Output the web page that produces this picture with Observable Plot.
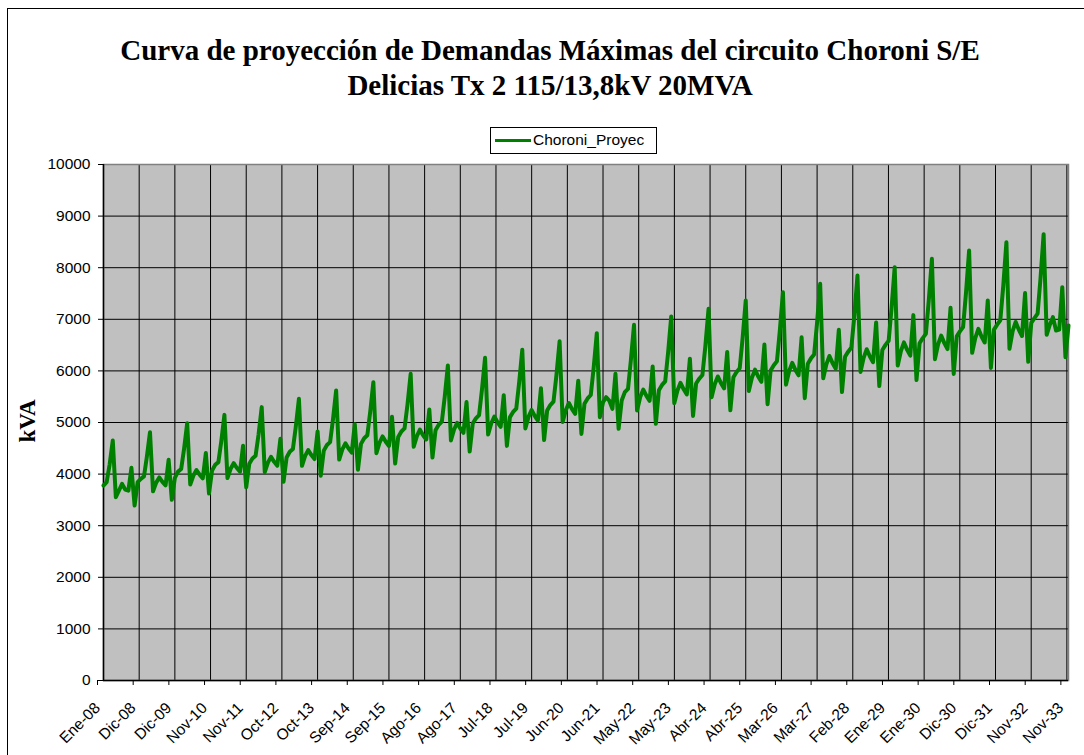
<!DOCTYPE html>
<html>
<head>
<meta charset="utf-8">
<script src="https://cdn.jsdelivr.net/npm/d3@7"></script>
<script src="https://cdn.jsdelivr.net/npm/@observablehq/plot@0.6"></script>
<style>
  html, body { margin: 0; padding: 0; background: #fff; overflow: hidden; }
  #wrap { position: relative; width: 1084px; height: 755px; overflow: hidden; }
  #border { position: absolute; left: 7px; top: 8px; width: 1200px; height: 900px; border: 1.5px solid #000; box-sizing: border-box; }
  .title { position: absolute; left: 8px; width: 1084px; text-align: center; font-family: "Liberation Serif", "Times New Roman", serif; font-weight: bold; font-size: 29px; line-height: 32px; color: #000; white-space: nowrap; }
  #legend { position: absolute; left: 490px; top: 127px; width: 167px; height: 27px; border: 1px solid #000; box-sizing: border-box; background: #fff; font-family: "Liberation Sans", Arial, sans-serif; font-size: 15.5px; }
  #legend .sw { position: absolute; left: 4px; top: 11px; width: 36px; height: 3px; background: #008000; }
  #legend .tx { position: absolute; left: 42px; top: 3px; white-space: nowrap; }
  #ylab { position: absolute; left: 28px; top: 421px; transform: translate(-50%, -50%) rotate(-90deg); font-family: "Liberation Serif", "Times New Roman", serif; font-weight: bold; font-size: 23px; white-space: nowrap; }
  #chart { position: absolute; left: 0; top: 0; }
</style>
</head>
<body>
<div id="wrap">
  <div id="border"></div>
  <div id="chart"></div>
  <div class="title" style="top:34px;">Curva de proyección de Demandas Máximas del circuito Choroni S/E</div>
  <div class="title" style="top:69px;">Delicias Tx 2 115/13,8kV 20MVA</div>
  <div id="legend"><div class="sw"></div><div class="tx">Choroni_Proyec</div></div>
  <div id="ylab">kVA</div>
</div>
<script>
// Series name
const seriesName = "Choroni_Proyec";

// Monthly values (kVA), Jan 2008 ... Dec 2033, one row per year (Ene..Dic)
const kva = [
  3779, 3843, 4185, 4651, 3553, 3682, 3811, 3700, 3680, 4121, 3391, 3843,
  3907, 3955, 4331, 4812, 3667, 3835, 3936, 3850, 3782, 4277, 3501, 3927,
  4048, 4098, 4487, 4985, 3799, 3973, 4078, 3988, 3918, 4407, 3624, 4068,
  4180, 4232, 4633, 5148, 3923, 4103, 4211, 4118, 4046, 4551, 3743, 4201,
  4302, 4355, 4768, 5298, 4037, 4223, 4334, 4238, 4164, 4683, 3852, 4323,
  4434, 4488, 4914, 5460, 4161, 4352, 4466, 4368, 4292, 4827, 3969, 4455,
  4563, 4620, 5058, 5620, 4282, 4479, 4597, 4496, 4417, 4968, 4086, 4586,
  4695, 4753, 5204, 5782, 4406, 4608, 4730, 4626, 4545, 5111, 4204, 4718,
  4826, 4885, 5349, 5943, 4529, 4737, 4861, 4754, 4671, 5254, 4321, 4849,
  4956, 5017, 5494, 6104, 4651, 4865, 4993, 4883, 4798, 5396, 4438, 4981,
  5079, 5142, 5630, 6255, 4766, 4985, 5117, 5004, 4916, 5529, 4547, 5104,
  5205, 5269, 5769, 6410, 4884, 5109, 5243, 5128, 5038, 5666, 4660, 5231,
  5338, 5404, 5917, 6574, 5009, 5239, 5378, 5259, 5167, 5811, 4779, 5364,
  5466, 5533, 6058, 6731, 5103, 5393, 5490, 5426, 5265, 5944, 4878, 5426,
  5588, 5650, 6204, 6893, 5233, 5494, 5638, 5514, 5418, 6085, 4975, 5625,
  5728, 5798, 6349, 7054, 5375, 5622, 5770, 5643, 5544, 6236, 5128, 5756,
  5849, 5921, 6483, 7203, 5489, 5741, 5892, 5762, 5662, 6367, 5237, 5878,
  5980, 6053, 6628, 7364, 5611, 5869, 6024, 5891, 5788, 6510, 5354, 6009,
  6110, 6186, 6773, 7525, 5734, 5997, 6155, 6020, 5915, 6652, 5471, 6140,
  6243, 6320, 6919, 7688, 5858, 6127, 6289, 6150, 6043, 6796, 5589, 6273,
  6373, 6452, 7064, 7849, 5981, 6256, 6420, 6279, 6169, 6939, 5706, 6405,
  6504, 6584, 7209, 8010, 6104, 6384, 6552, 6408, 6296, 7081, 5823, 6536,
  6636, 6717, 7355, 8172, 6227, 6513, 6685, 6538, 6423, 7224, 5941, 6668,
  6766, 6850, 7500, 8333, 6350, 6641, 6816, 6666, 6550, 7366, 6058, 6800,
  6897, 6982, 7645, 8494, 6428, 6770, 6948, 6795, 6676, 7509, 6175, 6931,
  7024, 7110, 7785, 8650, 6700, 6894, 7041, 6783, 6799, 7622, 6266, 6880
];

// X tick labels (one every 50 weeks)
const tickLabels = ["Ene-08","Dic-08","Dic-09","Nov-10","Nov-11","Oct-12","Oct-13","Sep-14","Sep-15","Ago-16","Ago-17","Jul-18","Jul-19","Jun-20","Jun-21","May-22","May-23","Abr-24","Abr-25","Mar-26","Mar-27","Feb-28","Ene-29","Ene-30","Dic-30","Dic-31","Nov-32","Nov-33"];

// Y ticks
const yTicks = [0, 1000, 2000, 3000, 4000, 5000, 6000, 7000, 8000, 9000, 10000];

const start = new Date(Date.UTC(2008, 0, 1));
const data = kva.map((v, i) => ({date: d3.utcMonth.offset(start, i), value: v}));
const tickDates = tickLabels.map((_, i) => d3.utcDay.offset(start, 350 * i));
const labelByTime = new Map(tickDates.map((d, i) => [+d, tickLabels[i]]));
const endDate = data[data.length - 1].date;

const chart = Plot.plot({
  width: 1084,
  height: 755,
  marginLeft: 103,
  marginRight: 16,
  marginTop: 164,
  marginBottom: 75,
  style: {background: "transparent", fontFamily: "'Liberation Sans', Arial, sans-serif", fontSize: "15.5px", color: "#000", overflow: "visible"},
  x: {type: "utc", domain: [start, endDate]},
  y: {domain: [0, 10000]},
  marks: [
    Plot.frame({fill: "#c0c0c0", stroke: null}),
    Plot.ruleX(tickDates, {stroke: "#000", strokeWidth: 1}),
    Plot.ruleY(yTicks, {stroke: "#000", strokeWidth: 1}),
    Plot.frame({stroke: "#808080", strokeWidth: 1.5}),
    Plot.ruleX([start], {stroke: "#000", strokeWidth: 1.5}),
    Plot.ruleY([0], {stroke: "#000", strokeWidth: 1.5}),
    Plot.line(data, {x: "date", y: "value", stroke: "#008000", strokeWidth: 4, strokeLinejoin: "round"}),
    Plot.axisY({ticks: yTicks, tickFormat: d => String(d), tickSize: 5, tickPadding: 8, label: null, stroke: "#000", fontSize: 15.5}),
    Plot.axisX({ticks: tickDates, tickFormat: d => labelByTime.get(+d), tickSize: 5, tickPadding: 20, tickRotate: -45, label: null, stroke: "#000", fontSize: 15.5, dx: -6})
  ]
});
document.getElementById("chart").appendChild(chart);
</script>
</body>
</html>
